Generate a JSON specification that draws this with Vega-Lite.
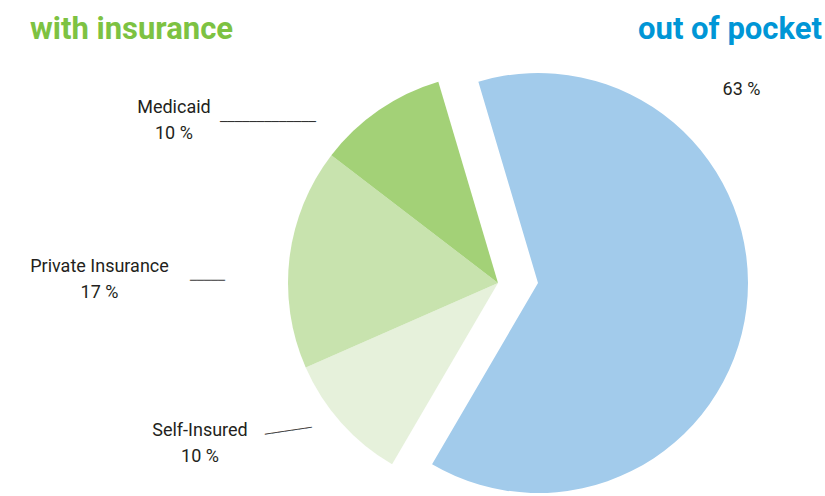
{
  "$schema": "https://vega.github.io/schema/vega-lite/v6.json",
  "width": 420,
  "height": 420,
  "autosize": "none",
  "padding": {"left": 288, "top": 73, "right": 117, "bottom": 3},
  "background": "white",
  "config": {"view": {"stroke": null}, "font": "Roboto"},
  "data": {
    "values": [
      {"group": "out of pocket", "category": "Out of Pocket", "value": 63, "order": 1},
      {"group": "with insurance", "category": "Self-Insured", "value": 10, "order": 2},
      {"group": "with insurance", "category": "Private Insurance", "value": 17, "order": 3},
      {"group": "with insurance", "category": "Medicaid", "value": 10, "order": 4}
    ]
  },
  "transform": [
    {"stack": "value", "groupby": [], "sort": [{"field": "order", "order": "ascending"}], "as": ["v0", "v1"]},
    {"calculate": "datum.value + ' %'", "as": "pct"},
    {"calculate": "datum.category + '\\n' + datum.pct", "as": "label"}
  ],
  "encoding": {
    "theta": {"field": "v0", "type": "quantitative", "stack": null, "scale": {"domain": [0, 100], "range": [-0.288, 5.995]}}
  },
  "layer": [
    {
      "transform": [{"filter": "datum.group == 'with insurance'"}],
      "mark": {"type": "arc"},
      "encoding": {
        "theta2": {"field": "v1"},
        "color": {"field": "category", "type": "nominal", "legend": null,
          "scale": {"domain": ["Out of Pocket", "Self-Insured", "Private Insurance", "Medicaid"], "range": ["#A2CBEB", "#E6F1DB", "#C8E3AE", "#A3D177"]}}
      }
    },
    {
      "transform": [{"filter": "datum.group == 'out of pocket'"}],
      "mark": {"type": "arc", "xOffset": 40},
      "encoding": {
        "theta2": {"field": "v1"},
        "color": {"field": "category", "type": "nominal", "legend": null,
          "scale": {"domain": ["Out of Pocket", "Self-Insured", "Private Insurance", "Medicaid"], "range": ["#A2CBEB", "#E6F1DB", "#C8E3AE", "#A3D177"]}}
      }
    },
    {
      "transform": [{"filter": "datum.category == 'Medicaid'"}],
      "mark": {"type": "text", "radius": 250, "align": "center", "baseline": "alphabetic", "lineBreak": "\n", "lineHeight": 26, "fontSize": 18, "dx": -125.7, "dy": -17.8, "color": "#231F20"},
      "encoding": {"text": {"field": "label"}}
    },
    {
      "transform": [{"filter": "datum.category == 'Medicaid'"}],
      "mark": {"type": "text", "radius": 250, "align": "left", "baseline": "middle", "font": "DejaVu Sans Mono", "fontSize": 12.27, "dx": -79.7, "dy": -8.8, "color": "#333333", "text": "─────────────"},
      "encoding": {}
    },
    {
      "transform": [{"filter": "datum.category == 'Medicaid'"}],
      "mark": {"type": "text", "radius": 250, "align": "left", "baseline": "alphabetic", "fontSize": 31, "fontWeight": "bold", "dx": -269.7, "dy": -91.8, "color": "#7DC242", "text": "with insurance"},
      "encoding": {}
    },
    {
      "transform": [{"filter": "datum.category == 'Private Insurance'"}],
      "mark": {"type": "text", "radius": 250, "align": "center", "baseline": "alphabetic", "lineBreak": "\n", "lineHeight": 26, "fontSize": 18, "dx": -169.6, "dy": -111.5, "color": "#231F20"},
      "encoding": {"text": {"field": "label"}}
    },
    {
      "transform": [{"filter": "datum.category == 'Private Insurance'"}],
      "mark": {"type": "text", "radius": 250, "align": "left", "baseline": "middle", "font": "DejaVu Sans Mono", "fontSize": 11.6, "dx": -79.1, "dy": -102.5, "color": "#333333", "text": "─────"},
      "encoding": {}
    },
    {
      "transform": [{"filter": "datum.category == 'Self-Insured'"}],
      "mark": {"type": "text", "radius": 250, "align": "center", "baseline": "alphabetic", "lineBreak": "\n", "lineHeight": 26, "fontSize": 18, "dx": -171.9, "dy": -62.9, "color": "#231F20"},
      "encoding": {"text": {"field": "label"}}
    },
    {
      "transform": [{"filter": "datum.category == 'Self-Insured'"}],
      "mark": {"type": "text", "radius": 250, "align": "left", "baseline": "middle", "font": "DejaVu Sans Mono", "fontSize": 11.27, "angle": -8.5, "dx": -96.3, "dy": -79.0, "color": "#333333", "text": "───────"},
      "encoding": {}
    },
    {
      "transform": [{"filter": "datum.group == 'out of pocket'"}],
      "mark": {"type": "text", "radius": 250, "align": "center", "baseline": "alphabetic", "fontSize": 18, "dx": 314.5, "dy": 51.7, "color": "#231F20"},
      "encoding": {"text": {"field": "pct"}}
    },
    {
      "transform": [{"filter": "datum.group == 'out of pocket'"}],
      "mark": {"type": "text", "radius": 250, "align": "right", "baseline": "alphabetic", "fontSize": 31, "fontWeight": "bold", "dx": 395, "dy": -4.3, "color": "#0096D6", "text": "out of pocket"},
      "encoding": {}
    }
  ]
}
